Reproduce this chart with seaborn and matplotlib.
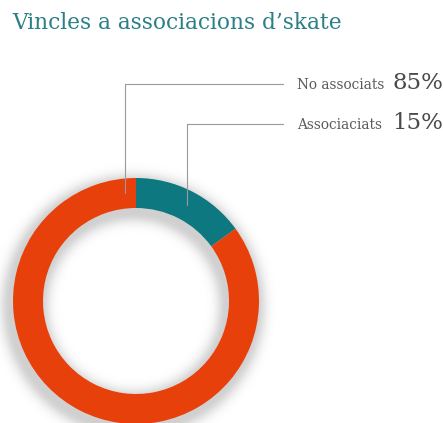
import numpy as np
import matplotlib
matplotlib.use("Agg")
import matplotlib.pyplot as plt
import seaborn as sns

sns.set_theme(style="white")
plt.rcParams["font.family"] = ["DejaVu Serif"]

# Data
categories = ["Associaciats", "No associats"]
shares = [15, 85]
colors = ["#0d7880", "#e8400b"]
title = "Vincles a associacions d\u2019skate"

W, H = 444, 423
fig = plt.figure(figsize=(W / 100, H / 100), dpi=100)
fig.patch.set_facecolor("white")
ax = fig.add_axes([0, 0, 1, 1])
ax.set_xlim(0, W)
ax.set_ylim(0, H)
ax.set_aspect("equal")
ax.axis("off")

cx, cy = 136, H - 301
r_out, width = 123, 30

# soft drop shadow under the ring
yy, xx = np.mgrid[0:H, 0:W]
d = np.hypot(xx + 0.5 - (cx - 3), (H - yy - 0.5) - (cy - 5))
r_in = r_out - width
dist = np.where(d > r_out, d - r_out, np.where(d < r_in, r_in - d, 0.0))
alpha = 0.28 * np.exp(-(dist ** 2) / (2 * 7.0 ** 2))
shadow = np.zeros((H, W, 4))
shadow[..., :3] = 0.35
shadow[..., 3] = alpha
ax.imshow(shadow, extent=(0, W, 0, H), origin="upper", zorder=0, interpolation="bilinear")

ax.pie(shares, colors=colors, startangle=90, counterclock=False,
       radius=r_out, center=(cx, cy), frame=True,
       wedgeprops=dict(width=width, edgecolor="none", linewidth=0))
ax.set_xlim(0, W)
ax.set_ylim(0, H)
ax.axis("off")

# leader lines and labels
line_col = "#9a9a9a"
leaders = [
    # (label, value, x of drop, y of label row, y of end inside ring)
    ("No associats", shares[1], 125, 84, 193),
    ("Associaciats", shares[0], 187, 124, 205),
]
for name, val, lx, ly, ey in leaders:
    ax.plot([lx, lx, 283], [H - ey, H - ly, H - ly], color=line_col, lw=0.8, zorder=3)
    ax.text(297, H - ly - 1, name, fontsize=9.8, color="#5a5a5a", va="center", ha="left")
    ax.text(443, H - ly + 1, f"{val}%", fontsize=16.5, color="#4a4a4a", va="center", ha="right")

ax.text(12, H - 23, title, fontsize=15.6, color="#2b7f86", va="center", ha="left")

fig.savefig("out.png", dpi=100, facecolor="white")
